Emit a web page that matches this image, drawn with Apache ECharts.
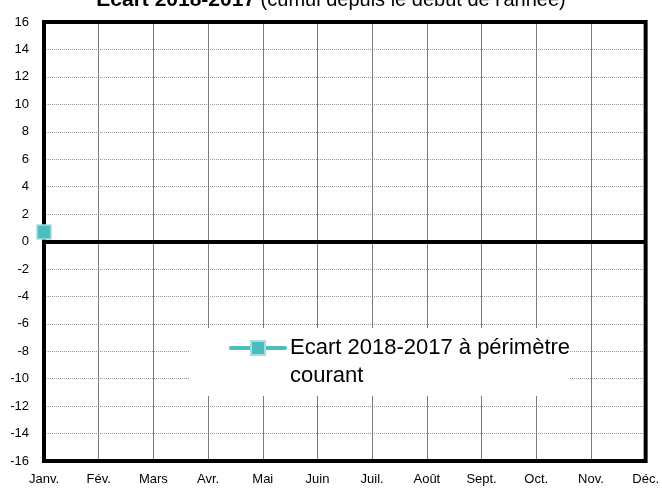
<!DOCTYPE html>
<html>
<head>
<meta charset="utf-8">
<script src="https://cdn.jsdelivr.net/npm/echarts@6/dist/echarts.min.js"></script>
<style>html,body{margin:0;padding:0;background:#fff}#c{width:662px;height:490px}</style>
</head>
<body>
<div id="c"></div>
<script>
var months = ['Janv.', 'Fév.', 'Mars', 'Avr.', 'Mai', 'Juin', 'Juil.', 'Août', 'Sept.', 'Oct.', 'Nov.', 'Déc.'];
var ecartValues = [0.7];
var seriesName = 'Ecart 2018-2017 à périmètre\ncourant';
var yMin = -16, yMax = 16, yStep = 2;

var FONT = "'Liberation Sans', Arial, sans-serif";
var chart = echarts.init(document.getElementById('c'));
chart.setOption({
  animation: false,
  backgroundColor: '#fff',
  title: {
    text: '{b|Ecart 2018-2017} (cumul depuis le début de l\'année)',
    left: 'center',
    top: -15,
    textStyle: {
      fontFamily: FONT, fontSize: 20, fontWeight: 'normal', color: '#000',
      rich: { b: { fontFamily: FONT, fontSize: 21, fontWeight: 'bold', color: '#000' } }
    }
  },
  graphic: [{
    type: 'rect', left: 190, top: 328, z: 3,
    shape: { width: 379, height: 68 },
    style: { fill: '#fff' }
  }],
  legend: {
    left: 229, top: 306, padding: 0,
    itemWidth: 54, itemHeight: 17.5,
    formatter: function (n) { return ' \n' + n; },
    lineStyle: { width: 4, cap: 'round' },
    textStyle: { fontFamily: FONT, fontSize: 22, lineHeight: 28, color: '#000' },
    data: [seriesName]
  },
  grid: {
    left: 44, right: 15, top: 22, bottom: 29, z: 2,
    show: true, borderWidth: 4, borderColor: '#000', backgroundColor: 'transparent'
  },
  xAxis: {
    type: 'category', data: months, boundaryGap: false,
    axisLine: { show: false }, axisTick: { show: false },
    axisLabel: { fontFamily: FONT, fontSize: 13, color: '#000', margin: 12, interval: 0 },
    splitLine: { show: true, interval: 0, lineStyle: { color: '#7a7a7a', width: 1, type: 'solid' } }
  },
  yAxis: {
    type: 'value', min: yMin, max: yMax, interval: yStep,
    axisLine: { show: false }, axisTick: { show: false },
    axisLabel: { fontFamily: FONT, fontSize: 13, color: '#000', margin: 15 },
    splitLine: { show: true, lineStyle: { color: '#999', width: 1, type: 'dotted' } }
  },
  series: [{
    name: seriesName, type: 'line', data: ecartValues,
    symbol: 'rect', symbolSize: 14, z: 5,
    lineStyle: { color: '#4BBDBE', width: 4, cap: 'round' },
    itemStyle: { color: '#4BBDBE', borderColor: '#A6DFE0', borderWidth: 1.5 },
    markLine: {
      silent: true, symbol: 'none', label: { show: false },
      lineStyle: { color: '#000', width: 4, type: 'solid' },
      data: [{ yAxis: 0 }]
    }
  }]
});
</script>
</body>
</html>
